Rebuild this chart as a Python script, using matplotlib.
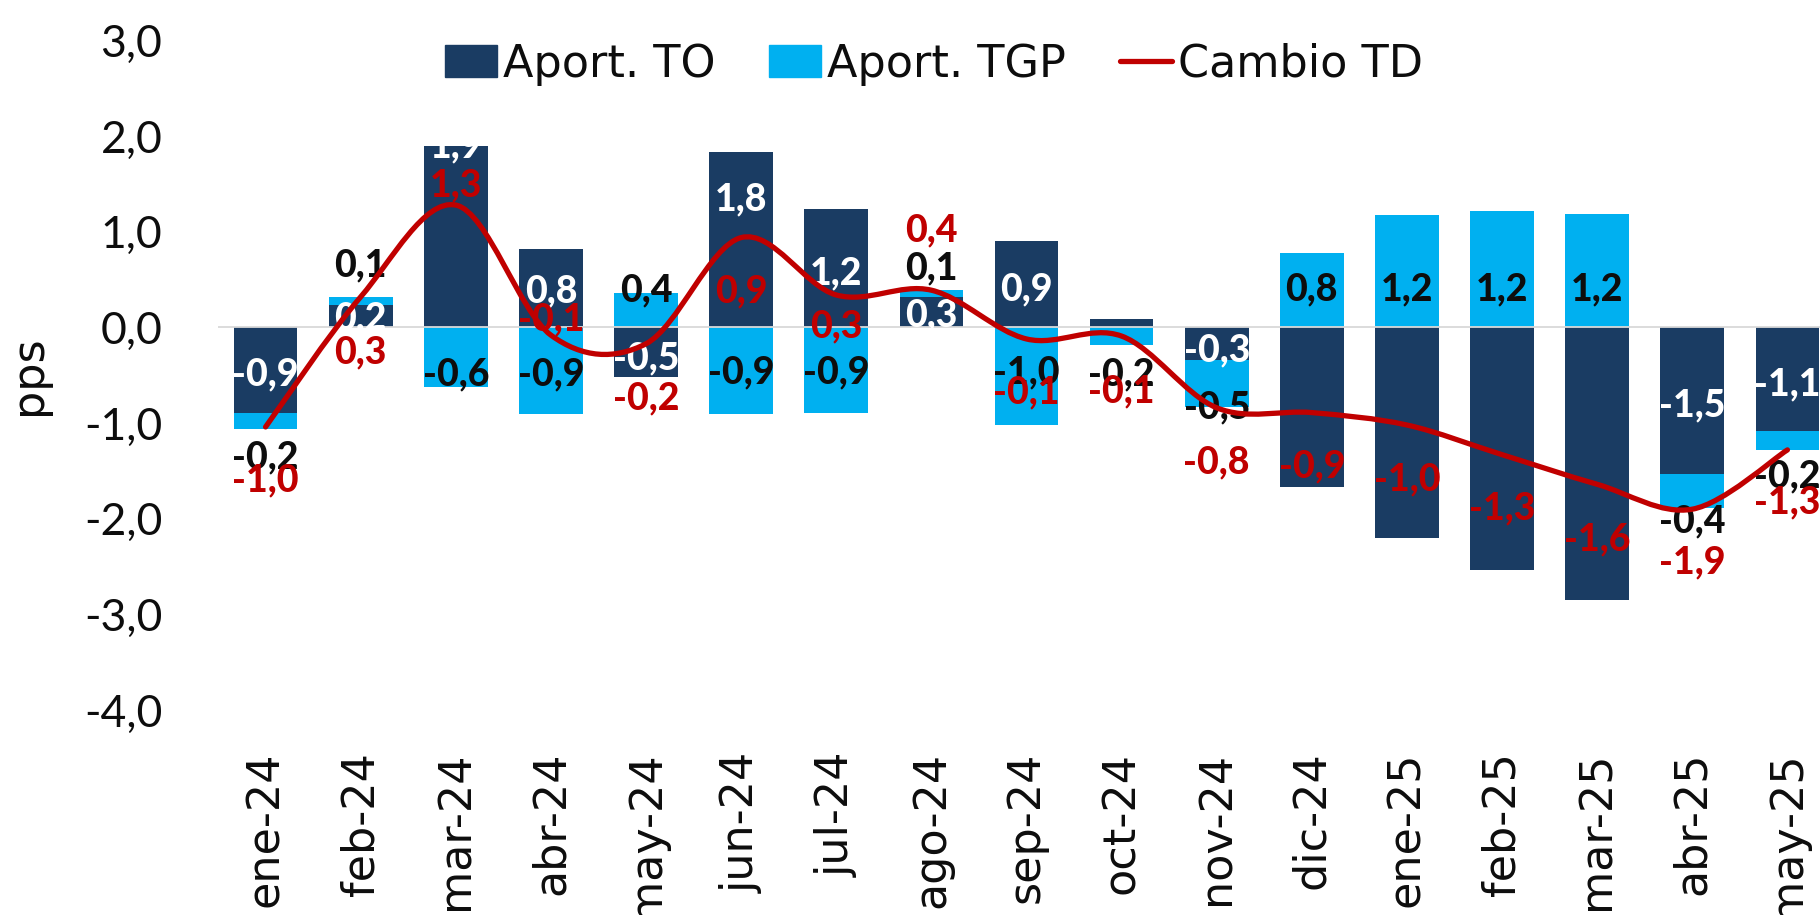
import numpy as np
import matplotlib.pyplot as plt
from matplotlib.path import Path
from matplotlib.patches import PathPatch, Patch
from matplotlib.lines import Line2D

# data (pps)
months = ['ene-24', 'feb-24', 'mar-24', 'abr-24', 'may-24', 'jun-24', 'jul-24', 'ago-24',
          'sep-24', 'oct-24', 'nov-24', 'dic-24', 'ene-25', 'feb-25', 'mar-25', 'abr-25', 'may-25']
aport_to = [-0.89, 0.24, 1.90, 0.82, -0.52, 1.84, 1.24, 0.32, 0.90, 0.09, -0.34,
            -1.67, -2.20, -2.54, -2.85, -1.53, -1.08]
aport_tgp = [-0.17, 0.08, -0.62, -0.90, 0.36, -0.90, -0.89, 0.07, -1.02, -0.18, -0.49,
             0.78, 1.18, 1.22, 1.19, -0.36, -0.20]
cambio_td = [-1.04, 0.32, 1.28, -0.08, -0.17, 0.94, 0.34, 0.39, -0.12, -0.09, -0.84,
             -0.89, -1.02, -1.33, -1.64, -1.90, -1.28]
yticks = [-4, -3, -2, -1, 0, 1, 2, 3]

# where the data labels sit (y, in axis units); None = not shown
to_label_y = [-0.49, 0.10, 1.89, 0.38, -0.32, 1.34, 0.57, 0.13, 0.40, None, -0.24,
              None, None, None, None, -0.82, -0.59]
tgp_label_y = [-1.36, 0.65, -0.49, -0.49, 0.39, -0.47, -0.47, 0.62, -0.47, -0.49, -0.84,
               0.40, 0.40, 0.40, 0.40, -2.03, -1.56]
td_label_y = [-1.60, -0.26, 1.49, 0.08, -0.74, 0.38, 0.01, 1.01, -0.68, -0.67, -1.41,
              -1.45, -1.59, -1.89, -2.22, -2.46, -1.83]

NAVY = '#1A3C63'
CYAN = '#00B0F0'
RED = '#C00000'
INK = '#0D0D0D'

plt.rcParams['font.family'] = ['DejaVu Sans']
W, H = 1820, 915

fig = plt.figure(figsize=(W / 100, H / 100), dpi=100)
ax = fig.add_axes([218 / W, 1 - 710 / H, 1617 / W, 669.4 / H])

x = np.arange(len(months))
to = np.array(aport_to)
tgp = np.array(aport_tgp)
td = np.array(cambio_td)
# stacked like Excel: same-sign values pile up, opposite signs start at zero
tgp_bottom = np.where(np.sign(tgp) == np.sign(to), to, 0.0)

bw = 0.67
ax.bar(x, to, width=bw, color=NAVY, zorder=2)
ax.bar(x, tgp, bottom=tgp_bottom, width=bw, color=CYAN, zorder=2)
ax.axhline(0, color='#D9D9D9', lw=1.3, zorder=2.5)

# smoothed line (Excel-style bezier through the points)
pts = np.column_stack([x, td])
verts = [pts[0]]
codes = [Path.MOVETO]
n = len(pts)
for i in range(n - 1):
    p0 = pts[i - 1] if i > 0 else pts[i]
    p3 = pts[i + 2] if i + 2 < n else pts[i + 1]
    c1 = pts[i] + (pts[i + 1] - p0) / 6
    c2 = pts[i + 1] - (p3 - pts[i]) / 6
    verts += [c1, c2, pts[i + 1]]
    codes += [Path.CURVE4] * 3
ax.add_patch(PathPatch(Path(verts, codes), fill=False, edgecolor=RED, lw=3.8,
                       capstyle='round', zorder=4))


def fmt(v):
    return f'{v:.1f}'.replace('.', ',')


lab = dict(family=['Lato', 'DejaVu Sans'], fontsize=27, fontweight=900,
           ha='center', va='center')
for i in range(n):
    if to_label_y[i] is not None:
        ax.text(x[i], to_label_y[i], fmt(to[i]), color='white', zorder=3, **lab)
    if tgp_label_y[i] is not None:
        ax.text(x[i], tgp_label_y[i], fmt(tgp[i]), color=INK, zorder=3, **lab)
    ax.text(x[i], td_label_y[i], fmt(td[i]), color=RED, zorder=5, **lab)

ax.set_xlim(-0.5, n - 0.5)
ax.set_ylim(-4, 3)
ax.set_xticks(x)
ax.set_xticklabels(months, rotation=90, fontsize=32, color=INK)
ax.set_yticks(yticks)
ax.set_yticklabels([fmt(v) for v in yticks], fontsize=32, color=INK,
                   family=['Lato', 'DejaVu Sans'])
ax.tick_params(axis='both', length=0)
ax.tick_params(axis='x', pad=30)
ax.tick_params(axis='y', pad=40)
for s in ax.spines.values():
    s.set_visible(False)

ax.set_ylabel('pps', fontsize=32, color=INK)
ax.yaxis.set_label_coords((50 - 218) / 1617, 0.5)

handles = [Patch(color=NAVY), Patch(color=CYAN),
           Line2D([], [], color=RED, lw=3.8, solid_capstyle='round')]
fig.legend(handles, ['Aport. TO', 'Aport. TGP', 'Cambio TD'], ncol=3, frameon=False,
           fontsize=32, loc='center', bbox_to_anchor=(934 / W, 1 - 64 / H),
           handlelength=1.17, handletextpad=0.14, columnspacing=1.2, borderpad=0,
           labelcolor=INK)

fig.savefig('out.png', dpi=100)
